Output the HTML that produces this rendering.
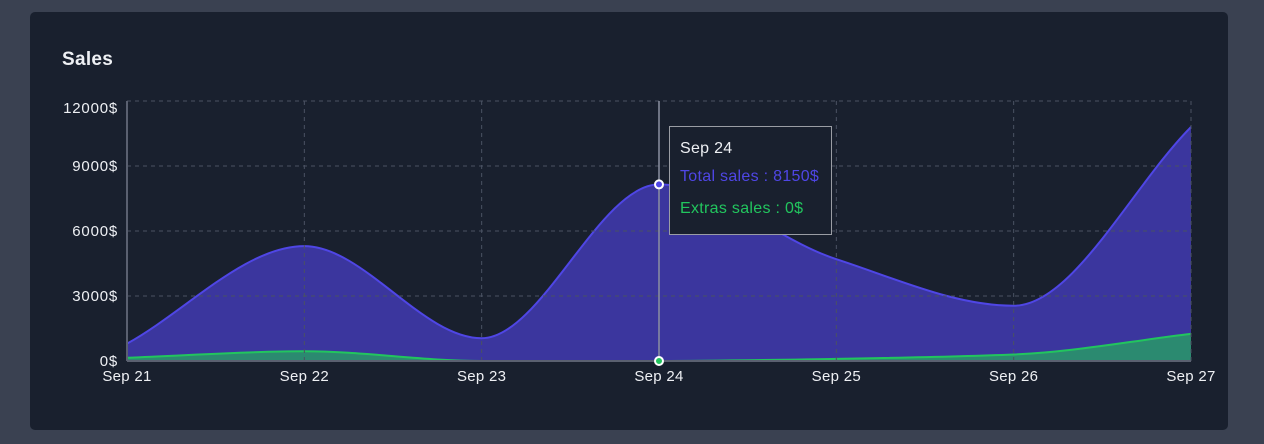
<!DOCTYPE html>
<html><head><meta charset="utf-8"><style>
html,body{margin:0;padding:0;width:1264px;height:444px;background:#3a4151;overflow:hidden;font-family:"Liberation Sans",sans-serif}
#card{position:absolute;left:30px;top:12px;width:1198px;height:418px;background:#19202e;border-radius:5px}
#title{position:absolute;left:32px;top:37px;color:#eef0f4;font-weight:bold;font-size:19px;letter-spacing:0.3px}
svg{position:absolute;left:0;top:0}
#tip{position:absolute;left:669px;top:126px;width:161px;height:107px;border:1px solid #9a9da4;background:#19202e;font-size:16px;letter-spacing:0.3px}
#tip div{position:absolute;left:10px;white-space:nowrap}
</style></head><body>
<div id="card"><div id="title">Sales</div></div>
<svg id="chart" width="1264" height="444"></svg>
<div id="tip">
<div style="top:13px;color:#eef0f4">Sep 24</div>
<div style="top:41px;color:#4f46e5">Total sales : 8150$</div>
<div style="top:73px;color:#22c55e">Extras sales : 0$</div>
</div>
<script>
const categories=["Sep 21","Sep 22","Sep 23","Sep 24","Sep 25","Sep 26","Sep 27"];
const totalSales=[800,5300,1050,8150,4700,2550,10800];
const extrasSales=[150,450,0,0,100,300,1250];
const yTicks=[0,3000,6000,9000,12000];
const yMax=12000;
const L=127,R=1191,T=101,B=361;
const svg=document.getElementById('chart');
const NS='http://www.w3.org/2000/svg';
function xs(i){return L+(R-L)*i/(categories.length-1);}
function ys(v){return B-(B-T)*v/yMax;}
function mk(t,a){const e=document.createElementNS(NS,t);for(const k in a)e.setAttribute(k,a[k]);svg.appendChild(e);return e;}
function monotone(pts){
 const n=pts.length,d=[],m=[];
 for(let i=0;i<n-1;i++)d.push((pts[i+1][1]-pts[i][1])/(pts[i+1][0]-pts[i][0]));
 for(let i=0;i<n;i++){
  if(i==0)m.push(d[0]);else if(i==n-1)m.push(d[n-2]);
  else m.push(d[i-1]*d[i]<=0?0:2/(1/d[i-1]+1/d[i]));
 }
 let p='M'+pts[0][0]+','+pts[0][1];
 for(let i=0;i<n-1;i++){const h=(pts[i+1][0]-pts[i][0])/3;
  p+=' C'+(pts[i][0]+h)+','+(pts[i][1]+m[i]*h)+' '+(pts[i+1][0]-h)+','+(pts[i+1][1]-m[i+1]*h)+' '+pts[i+1][0]+','+pts[i+1][1];}
 return p;}
function series(vals,fill,stroke,name){
 const pts=vals.map((v,i)=>[xs(i),ys(v)]);const c=monotone(pts);
 const a=mk('path',{d:c+' L'+R+','+B+' L'+L+','+B+' Z',fill:fill});
 
 
 const l=mk('path',{d:c,fill:'none',stroke:stroke,'stroke-width':2});
 
 
}
series(totalSales,'#3b369e','#4f46e5','total-sales');
series(extrasSales,'#2b8a70','#22c55e','extras-sales');
yTicks.forEach(v=>{
 const g=mk('line',{x1:L,x2:R,y1:ys(v),y2:ys(v),stroke:'#4a5263','stroke-dasharray':'4 4'});
 
 
 const t=mk('text',{x:118,y:Math.max(ys(v),108)+5,'text-anchor':'end',fill:'#eef0f4','font-size':15,'letter-spacing':0.8,'font-family':'Liberation Sans, sans-serif'});
 t.textContent=v+'$';
 
 
});
categories.forEach((c,i)=>{
 const g=mk('line',{x1:xs(i),x2:xs(i),y1:T,y2:B,stroke:'#4a5263','stroke-dasharray':'4 4'});
 
 
 const t=mk('text',{x:xs(i),y:381,'text-anchor':'middle',fill:'#eef0f4','font-size':15,'letter-spacing':0.3,'font-family':'Liberation Sans, sans-serif'});
 t.textContent=c;
 
 
});
const ax=mk('line',{x1:L,x2:L,y1:T,y2:B,stroke:'#5a6070','stroke-width':2});


const bx=mk('line',{x1:L,x2:R,y1:B,y2:B,stroke:'#5a6070','stroke-width':2});


const hi=3;
const ch=mk('line',{x1:xs(hi),x2:xs(hi),y1:T,y2:B,stroke:'#8b8fa0','stroke-width':1.5});


const p1=mk('circle',{cx:xs(hi),cy:ys(totalSales[hi]),r:4,fill:'#4f46e5',stroke:'#fff','stroke-width':2});


const p2=mk('circle',{cx:xs(hi),cy:ys(extrasSales[hi]),r:4,fill:'#22c55e',stroke:'#fff','stroke-width':2});


</script>
</body></html>
